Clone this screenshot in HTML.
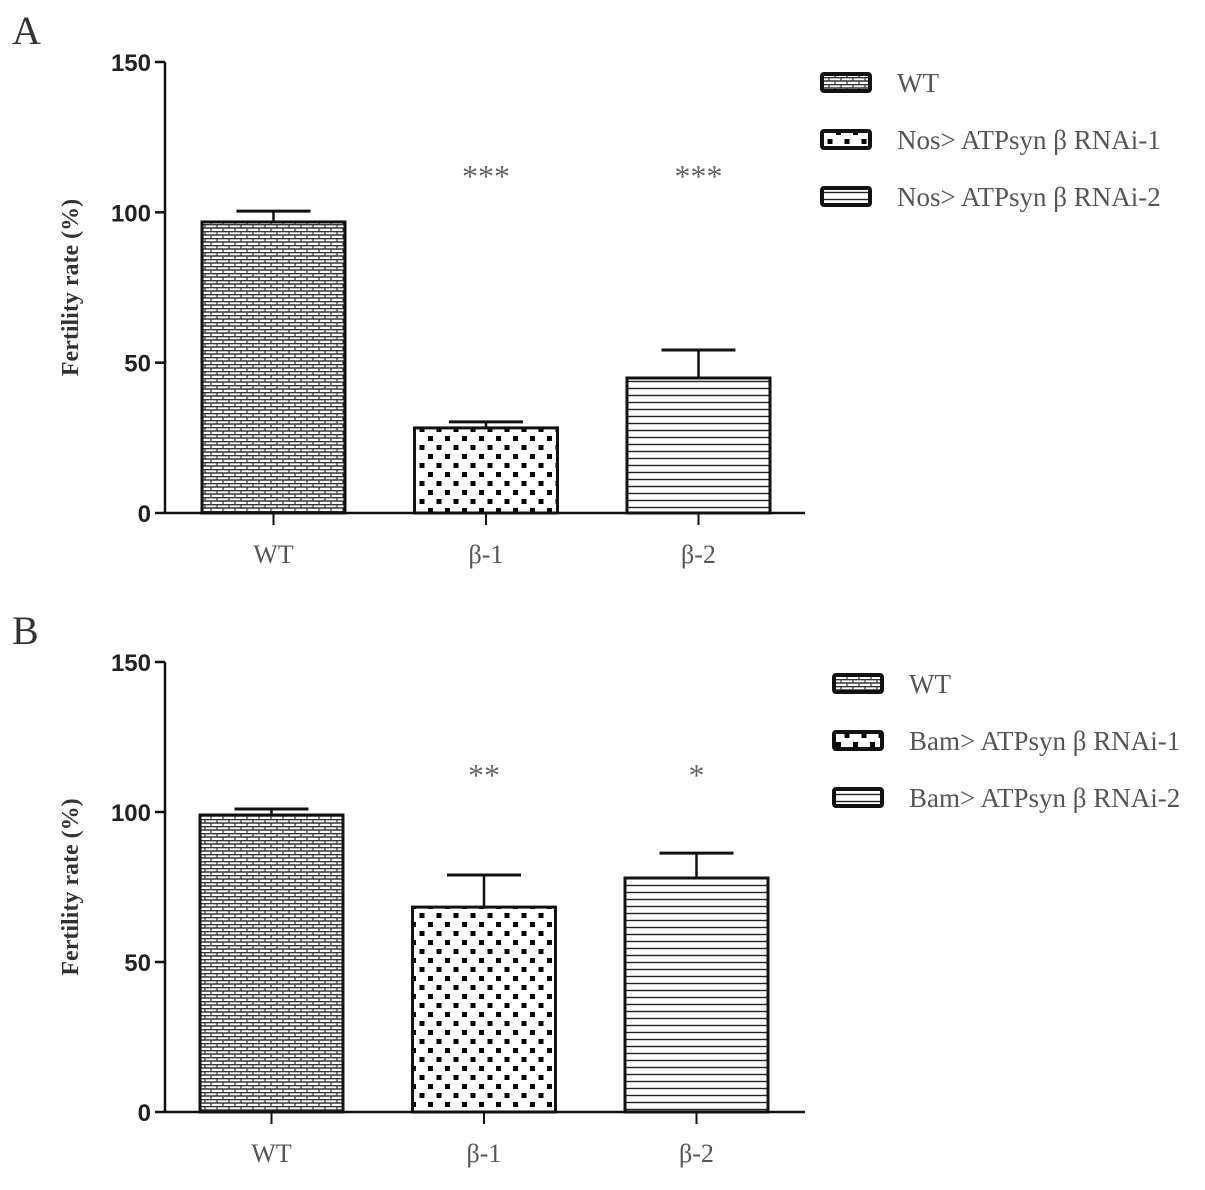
<!DOCTYPE html>
<html><head><meta charset="utf-8"><style>
body{margin:0;background:#fff}
svg text{font-family:"Liberation Serif",serif}
.tick{font-family:"Liberation Sans",sans-serif;font-size:24px;font-weight:bold;fill:#222}
.cat{font-size:26px;fill:#555}
.star{font-size:32px;fill:#666}
.leg{font-size:27px;fill:#555}
.ytitle{font-size:24px;font-weight:bold;fill:#333}
</style></head><body>
<svg id="c" width="1205" height="1185" xmlns="http://www.w3.org/2000/svg">
<defs>
<pattern id="brick" width="12" height="7" patternUnits="userSpaceOnUse">
<rect width="12" height="7" fill="#fff"/>
<line x1="0" y1="0.6" x2="12" y2="0.6" stroke="#333" stroke-width="1.5"/>
<line x1="0" y1="4" x2="12" y2="4" stroke="#333" stroke-width="1.5"/>
<line x1="1" y1="0" x2="1" y2="4" stroke="#333" stroke-width="1.2"/>
<line x1="7" y1="4" x2="7" y2="7" stroke="#333" stroke-width="1.2"/>
</pattern>
<pattern id="check" x="1" y="2" width="17" height="18" patternUnits="userSpaceOnUse">
<rect width="17" height="18" fill="#fff"/>
<rect x="2" y="2" width="5" height="5" fill="#000"/>
<rect x="10.5" y="11" width="5" height="5" fill="#000"/>
</pattern>
<pattern id="stripe" width="10" height="7" patternUnits="userSpaceOnUse">
<rect width="10" height="7" fill="#fff"/>
<line x1="0" y1="3.5" x2="10" y2="3.5" stroke="#222" stroke-width="1.4"/>
</pattern>
</defs>
</svg>
<script>
const categories = ["WT", "β-1", "β-2"];
const valuesA = [96.8, 28.3, 44.9];
const errorsA = [3.6, 2.0, 9.3];
const valuesB = [99.0, 68.3, 78.0];
const errorsB = [2.0, 10.7, 8.3];
const starsA = ["", "***", "***"];
const starsB = ["", "**", "*"];
const yTicks = [0, 50, 100, 150];
const legendA = ["WT", "Nos> ATPsyn β RNAi-1", "Nos> ATPsyn β RNAi-2"];
const legendB = ["WT", "Bam> ATPsyn β RNAi-1", "Bam> ATPsyn β RNAi-2"];
const fills = ["url(#brick)", "url(#check)", "url(#stripe)"];

const svg = document.getElementById('c');
const NS = "http://www.w3.org/2000/svg";
function mk(tag, attrs, parent) {
  const e = document.createElementNS(NS, tag);
  for (const k in attrs) e.setAttribute(k, attrs[k]);
  (parent || svg).appendChild(e);
  return e;
}
function panel(cfg) {
  const g = mk('g', {});
  
  
  const y = v => cfg.y0 - (v / 150) * (cfg.y0 - cfg.y150);
  const x0 = 165, x1 = 805;
  const xc = i => cfg.xStart + i * 212.5;
  const bw = 143;
  const letter = mk('text', {x: 12, y: cfg.y150 - 18, 'font-size': 40, fill: '#333'}, g);
  letter.textContent = cfg.id;
  
  
  const yax = mk('line', {x1: x0, y1: y(150), x2: x0, y2: y(0), stroke: '#111', 'stroke-width': 2.5}, g);
  
  
  yTicks.forEach(t => {
    mk('line', {x1: x0 - 10, y1: y(t), x2: x0, y2: y(t), stroke: '#111', 'stroke-width': 2.5}, g);
    const tx = mk('text', {x: x0 - 14, y: y(t) + 9, 'text-anchor': 'end', class: 'tick'}, g);
    tx.textContent = t;
    
    
  });
  const xax = mk('line', {x1: x0, y1: y(0), x2: x1, y2: y(0), stroke: '#111', 'stroke-width': 2.5}, g);
  
  
  const yt = mk('text', {x: 0, y: 0, class: 'ytitle', 'text-anchor': 'middle', transform: `translate(78,${(y(0)+y(150))/2}) rotate(-90)`}, g);
  yt.textContent = 'Fertility rate (%)';
  
  
  categories.forEach((c, i) => {
    const cx = xc(i);
    mk('line', {x1: cx, y1: y(0), x2: cx, y2: y(0) + 12, stroke: '#111', 'stroke-width': 2}, g);
    const v = cfg.values[i], e = cfg.errors[i];
    const el = mk('line', {x1: cx, y1: y(v), x2: cx, y2: y(v + e), stroke: '#111', 'stroke-width': 2.5}, g);
    
    
    mk('line', {x1: cx - 37, y1: y(v + e), x2: cx + 37, y2: y(v + e), stroke: '#111', 'stroke-width': 3}, g);
    const r = mk('rect', {x: cx - bw / 2, y: y(v), width: bw, height: y(0) - y(v), fill: fills[i], stroke: '#111', 'stroke-width': 3}, g);
    
    
    const lab = mk('text', {x: cx, y: y(0) + 50, 'text-anchor': 'middle', class: 'cat'}, g);
    lab.textContent = c;
    
    
    if (cfg.stars[i]) {
      const s = mk('text', {x: cx, y: y(0) - 326, 'text-anchor': 'middle', class: 'star'}, g);
      s.textContent = cfg.stars[i];
      
      
    }
    const ly = cfg.legY + i * 57;
    const lb = mk('rect', {x: cfg.legX, y: ly - 9, width: 48, height: 17, fill: fills[i], stroke: '#111', 'stroke-width': 4, rx: 2}, g);
    
    
    const lt = mk('text', {x: cfg.legX + 75, y: ly + 9, class: 'leg'}, g);
    lt.textContent = cfg.legend[i];
    
    
  });
}
panel({id: 'A', y0: 513, y150: 62, xStart: 273.5, values: valuesA, errors: errorsA, stars: starsA, legend: legendA, legX: 822, legY: 83});
panel({id: 'B', y0: 1112, y150: 662, xStart: 271.5, values: valuesB, errors: errorsB, stars: starsB, legend: legendB, legX: 834, legY: 684});
</script>
</body></html>
